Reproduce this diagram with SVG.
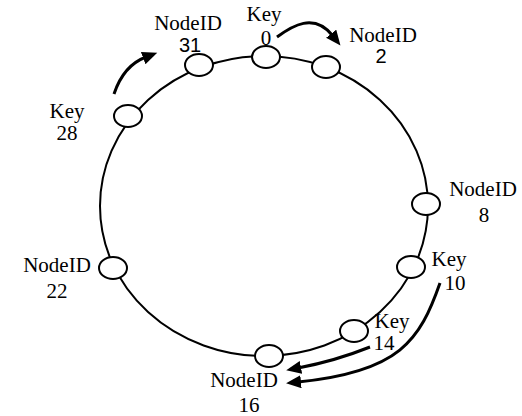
<svg xmlns="http://www.w3.org/2000/svg" width="522" height="416" viewBox="0 0 522 416">
<style>
.ring{fill:none;stroke:#000;stroke-width:2}
.nd{fill:#fff;stroke:#000;stroke-width:2}
.t{font-family:"Liberation Serif","Times New Roman","DejaVu Serif",serif;font-size:21px;fill:#000;text-anchor:middle}
.s{font-family:"Liberation Sans",Arial,sans-serif;font-size:20px;fill:#000;text-anchor:middle}
.arr{fill:none;stroke:#000;stroke-width:3;marker-end:url(#ah)}
</style>
<defs>
<marker id="ah" markerUnits="userSpaceOnUse" markerWidth="16" markerHeight="14" refX="3" refY="6.5" orient="auto">
<path d="M0,0 L15,6.5 L0,13 z" fill="#000"/>
</marker>
</defs>
<rect width="522" height="416" fill="#fff"/>
<ellipse class="ring" cx="264" cy="206" rx="164" ry="150"/>
<g id="connectors">
<path class="arr" d="M277,37 C292,26 314,12 333,36"/>
<path class="arr" d="M114,94 C120,76 130,63 146,57"/>
<path class="arr" d="M370,347 Q335,361 298,368"/>
<path class="arr" d="M440,283 C420,340 400,372 298,382"/>
</g>
<g id="node31"><ellipse class="nd" cx="199" cy="65" rx="14" ry="11"/><text class="t" x="188" y="30">NodeID</text><text class="s" x="190" y="52">31</text></g>
<g id="key0"><ellipse class="nd" cx="266" cy="57" rx="14" ry="11"/><text class="t" x="264" y="21">Key</text><text class="t" x="266" y="45">0</text></g>
<g id="node2"><ellipse class="nd" cx="326" cy="67" rx="14" ry="11"/><text class="t" x="383" y="42">NodeID</text><text class="s" x="381" y="63">2</text></g>
<g id="node8"><ellipse class="nd" cx="426" cy="204" rx="14" ry="11"/><text class="t" x="483" y="196">NodeID</text><text class="t" x="484" y="222">8</text></g>
<g id="key10"><ellipse class="nd" cx="411" cy="267" rx="14" ry="11"/><text class="t" x="449" y="266">Key</text><text class="t" x="455" y="290">10</text></g>
<g id="key14"><ellipse class="nd" cx="354" cy="331" rx="14" ry="11"/><text class="t" x="392" y="328">Key</text><text class="t" x="384" y="350">14</text></g>
<g id="node16"><ellipse class="nd" cx="269" cy="356" rx="14" ry="11"/><text class="t" x="244" y="387">NodeID</text><text class="t" x="249" y="412">16</text></g>
<g id="node22"><ellipse class="nd" cx="113" cy="268" rx="14" ry="11"/><text class="t" x="57" y="272">NodeID</text><text class="t" x="57" y="298">22</text></g>
<g id="key28"><ellipse class="nd" cx="128" cy="116" rx="14" ry="11"/><text class="t" x="67" y="118">Key</text><text class="t" x="67" y="140">28</text></g>
</svg>
